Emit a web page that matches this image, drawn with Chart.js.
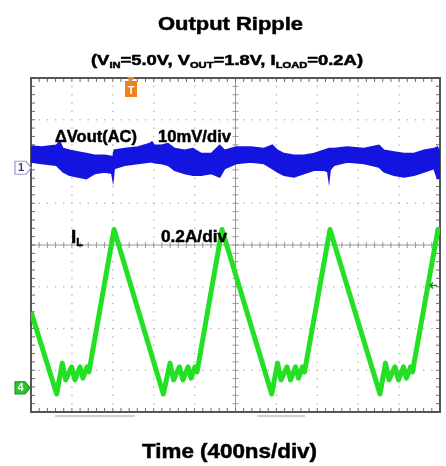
<!DOCTYPE html>
<html>
<head>
<meta charset="utf-8">
<script src="https://cdn.jsdelivr.net/npm/chart.js@4.4.1/dist/chart.umd.min.js"></script>
<style>
  html, body { margin: 0; padding: 0; background: #fff; }
  canvas { display: block; }
</style>
</head>
<body>
<canvas id="rippleChart" width="446" height="466"></canvas>
<script>
// screen: 10 div x 400 ns, 8 div vertical (values in divisions)
var timeMin = 0, timeMax = 4000, divMin = -4, divMax = 4;
var timeGrid = [0, 400, 800, 1200, 1600, 2000, 2400, 2800, 3200, 3600, 4000];
var divGrid = [-4, -3, -2, -1, 0, 1, 2, 3, 4];

// CH1 dVout(AC), 10mV/div: noise band (top / bottom edge)
var voutTime  = [0, 101, 247, 281, 313, 378, 460, 541, 623, 721, 790, 802, 814, 916, 1046, 1161, 1183, 1205, 1274, 1340, 1405, 1503, 1584, 1666, 1763, 1845, 1894, 2008, 2149, 2279, 2360, 2409, 2474, 2572, 2670, 2768, 2866, 2902, 2914, 2926, 2963, 3093, 3257, 3403, 3452, 3550, 3648, 3746, 3843, 3941, 3974, 4000];
var voutUpper = [2.37, 2.35, 2.39, 2.47, 2.31, 2.27, 2.23, 2.19, 2.15, 2.15, 2.12, 2.11, 2.27, 2.31, 2.35, 2.43, 2.47, 2.39, 2.39, 2.43, 2.31, 2.27, 2.31, 2.19, 2.19, 2.39, 2.27, 2.35, 2.35, 2.31, 2.39, 2.27, 2.19, 2.15, 2.15, 2.19, 2.27, 2.30, 2.31, 2.31, 2.31, 2.35, 2.31, 2.39, 2.27, 2.23, 2.19, 2.19, 2.27, 2.31, 2.35, 2.23];
var voutLower = [1.99, 1.95, 1.91, 1.83, 1.75, 1.67, 1.63, 1.59, 1.71, 1.75, 1.72, 1.55, 1.83, 1.91, 1.95, 1.99, 1.99, 1.97, 1.95, 1.91, 1.79, 1.71, 1.67, 1.67, 1.71, 1.63, 1.83, 1.95, 1.99, 1.95, 1.83, 1.75, 1.67, 1.63, 1.71, 1.79, 1.79, 1.76, 1.55, 1.80, 1.91, 1.99, 1.95, 1.87, 1.75, 1.67, 1.63, 1.67, 1.75, 1.83, 1.59, 1.59];

// CH4 inductor current IL, 0.2A/div
var ilTime = [0, 251, 306, 339, 398, 430, 479, 508, 548, 567, 812, 1294, 1360, 1394, 1452, 1486, 1536, 1565, 1604, 1624, 1868, 2354, 2411, 2445, 2504, 2538, 2587, 2616, 2655, 2675, 2924, 3413, 3467, 3501, 3560, 3594, 3643, 3672, 3712, 3731, 3980, 4000];
var ilDiv  = [-1.60, -3.57, -2.83, -3.23, -2.92, -3.23, -2.92, -3.19, -2.92, -3.04, 0.37, -3.57, -2.83, -3.23, -2.92, -3.23, -2.92, -3.19, -2.92, -3.04, 0.37, -3.57, -2.83, -3.23, -2.92, -3.23, -2.92, -3.19, -2.92, -3.04, 0.37, -3.57, -2.83, -3.23, -2.92, -3.23, -2.92, -3.19, -2.92, -3.04, 0.37, 0.33];

// scope markers
var triggerTime = 978;
var ch1Ground = 1.85;
var ch4Ground = -3.42;
var ch4Level = -0.97;

function pts(xs, ys) {
  return xs.map(function (x, i) { return { x: x, y: ys[i] }; });
}

var FONT = '"Liberation Sans", Arial, sans-serif';

// draws text pieces (text, font, dy) squeezed/stretched to a given width
function fitText(ctx, pieces, left, baseline, width) {
  var total = 0;
  pieces.forEach(function (p) { ctx.font = p[1]; total += ctx.measureText(p[0]).width; });
  var k = width / total;
  ctx.save();
  ctx.translate(left, baseline);
  ctx.scale(k, 1);
  ctx.lineWidth = 0.5;
  ctx.strokeStyle = ctx.fillStyle;
  var x = 0;
  pieces.forEach(function (p) {
    ctx.font = p[1];
    ctx.fillText(p[0], x, p[2] || 0);
    ctx.strokeText(p[0], x, p[2] || 0);
    x += ctx.measureText(p[0]).width;
  });
  ctx.restore();
}

function tagRight(ctx, x0, yc, w, h, fill, stroke, label, color) {
  ctx.beginPath();
  ctx.moveTo(x0, yc - h / 2);
  ctx.lineTo(x0 + w - 5, yc - h / 2);
  ctx.lineTo(x0 + w, yc);
  ctx.lineTo(x0 + w - 5, yc + h / 2);
  ctx.lineTo(x0, yc + h / 2);
  ctx.closePath();
  ctx.fillStyle = fill;
  ctx.fill();
  ctx.lineWidth = 1.2;
  ctx.strokeStyle = stroke;
  ctx.stroke();
  ctx.fillStyle = color;
  ctx.font = 'bold 11px ' + FONT;
  ctx.textAlign = 'center';
  ctx.textBaseline = 'middle';
  ctx.fillText(label, x0 + (w - 4) / 2, yc + 0.5);
  ctx.textAlign = 'left';
  ctx.textBaseline = 'alphabetic';
}

var graticule = {
  id: 'graticule',
  beforeDatasetsDraw: function (chart) {
    var ctx = chart.ctx, a = chart.chartArea, xs = chart.scales.x, ys = chart.scales.y;
    var stepX = (xs.getPixelForValue(400) - xs.getPixelForValue(0)) / 5;
    var stepY = (ys.getPixelForValue(0) - ys.getPixelForValue(1)) / 5;
    ctx.save();
    // dotted division lines
    ctx.fillStyle = '#b0b0b0';
    timeGrid.forEach(function (t) {
      var px = xs.getPixelForValue(t);
      for (var y = a.top; y <= a.bottom; y += stepY) ctx.fillRect(px - 0.6, y - 0.6, 1.3, 1.3);
    });
    divGrid.forEach(function (d) {
      var py = ys.getPixelForValue(d);
      for (var x = a.left; x <= a.right; x += stepX) ctx.fillRect(x - 0.6, py - 0.6, 1.3, 1.3);
    });
    // centre cross with minor ticks
    var cx = xs.getPixelForValue(2000), cy = ys.getPixelForValue(0);
    ctx.strokeStyle = '#9a9a9a';
    ctx.lineWidth = 1;
    ctx.beginPath();
    ctx.moveTo(a.left, cy); ctx.lineTo(a.right, cy);
    ctx.moveTo(cx, a.top); ctx.lineTo(cx, a.bottom);
    for (var x = a.left; x <= a.right + 0.5; x += stepX) { ctx.moveTo(x, cy - 3); ctx.lineTo(x, cy + 3); }
    for (var y = a.top; y <= a.bottom + 0.5; y += stepY) { ctx.moveTo(cx - 3, y); ctx.lineTo(cx + 3, y); }
    ctx.stroke();
    // frame with inner ticks
    ctx.strokeStyle = '#6a6a6a';
    ctx.beginPath();
    for (x = a.left; x <= a.right + 0.5; x += stepX) {
      ctx.moveTo(x, a.top); ctx.lineTo(x, a.top + 4);
      ctx.moveTo(x, a.bottom); ctx.lineTo(x, a.bottom - 4);
    }
    for (y = a.top; y <= a.bottom + 0.5; y += stepY) {
      ctx.moveTo(a.left, y); ctx.lineTo(a.left + 4, y);
      ctx.moveTo(a.right, y); ctx.lineTo(a.right - 4, y);
    }
    ctx.stroke();
    ctx.strokeStyle = '#555';
    ctx.lineWidth = 2;
    ctx.strokeRect(a.left, a.top, a.right - a.left, a.bottom - a.top);
    // faint bars under the frame
    ctx.strokeStyle = '#cfcfcf';
    ctx.lineWidth = 2;
    ctx.beginPath();
    ctx.moveTo(55, a.bottom + 4); ctx.lineTo(135, a.bottom + 4);
    ctx.moveTo(257, a.bottom + 4); ctx.lineTo(305, a.bottom + 4);
    ctx.stroke();
    ctx.restore();
  },
  afterDraw: function (chart) {
    var ctx = chart.ctx, a = chart.chartArea, xs = chart.scales.x, ys = chart.scales.y;
    ctx.save();
    ctx.fillStyle = '#000';
    fitText(ctx, [['Output Ripple', 'bold 19px ' + FONT]], 158, 29.5, 145);
    var sub = 'bold 8.5px ' + FONT, main = 'bold 14px ' + FONT;
    fitText(ctx, [['(V', main], ['IN', sub, 2.5], ['=5.0V, V', main], ['OUT', sub, 2.5],
                  ['=1.8V, I', main], ['LOAD', sub, 2.5], ['=0.2A)', main]], 91, 65, 272);
    fitText(ctx, [['Time (400ns/div)', 'bold 21px ' + FONT]], 142, 458, 175);
    fitText(ctx, [['\u0394Vout(AC)', 'bold 17px ' + FONT]], 55, 142, 82);
    fitText(ctx, [['10mV/div', 'bold 17px ' + FONT]], 158, 142, 73);
    fitText(ctx, [['I', 'bold 19px ' + FONT], ['L', 'bold 11px ' + FONT, 3]], 71, 242.5, 12);
    fitText(ctx, [['0.2A/div', 'bold 17px ' + FONT]], 161, 242, 66);

    // trigger marker
    var tx = xs.getPixelForValue(triggerTime);
    ctx.fillStyle = '#f0821e';
    ctx.beginPath();
    ctx.moveTo(tx - 6, a.top + 3);
    ctx.lineTo(tx + 6, a.top + 3);
    ctx.lineTo(tx + 6, a.top + 19);
    ctx.lineTo(tx - 6, a.top + 19);
    ctx.closePath();
    ctx.fill();
    ctx.beginPath();
    ctx.moveTo(tx - 4, a.top - 1); ctx.lineTo(tx + 4, a.top - 1); ctx.lineTo(tx, a.top + 4);
    ctx.closePath();
    ctx.fill();
    ctx.fillStyle = '#fff';
    ctx.font = 'bold 11px ' + FONT;
    ctx.textAlign = 'center';
    ctx.fillText('T', tx, a.top + 16);
    ctx.textAlign = 'left';

    // channel ground markers
    tagRight(ctx, 15, ys.getPixelForValue(ch1Ground), 16, 13, '#fff', '#9a9ac4', '1', '#3a3a8a');
    tagRight(ctx, 15, ys.getPixelForValue(ch4Ground), 15, 12, '#2cc42c', '#1e9a1e', '4', '#fff');

    // ch4 level arrow on the right
    var ay = ys.getPixelForValue(ch4Level);
    ctx.strokeStyle = '#1f8f1f';
    ctx.lineWidth = 1.5;
    ctx.beginPath();
    ctx.moveTo(a.right - 3, ay); ctx.lineTo(a.right - 10, ay);
    ctx.moveTo(a.right - 7, ay - 3); ctx.lineTo(a.right - 10, ay); ctx.lineTo(a.right - 7, ay + 3);
    ctx.stroke();
    ctx.restore();
  }
};

new Chart(document.getElementById('rippleChart').getContext('2d'), {
  type: 'line',
  data: {
    datasets: [{
      label: 'dVout upper',
      data: pts(voutTime, voutUpper),
      borderColor: '#1616dc',
      backgroundColor: '#1414e0',
      borderWidth: 1.5,
      pointRadius: 0,
      fill: '+1'
    }, {
      label: 'dVout lower',
      data: pts(voutTime, voutLower),
      borderColor: '#1616dc',
      borderWidth: 1.5,
      pointRadius: 0,
      fill: false
    }, {
      label: 'IL',
      data: pts(ilTime, ilDiv),
      borderColor: '#24e024',
      borderWidth: 5,
      borderJoinStyle: 'round',
      pointRadius: 0,
      fill: false
    }]
  },
  options: {
    responsive: false,
    animation: false,
    events: [],
    layout: { padding: { left: 31, right: 6, top: 78, bottom: 54 } },
    plugins: { legend: { display: false }, tooltip: { enabled: false } },
    scales: {
      x: { type: 'linear', min: timeMin, max: timeMax, display: false },
      y: { type: 'linear', min: divMin, max: divMax, display: false }
    }
  },
  plugins: [graticule]
});
</script>
</body>
</html>
